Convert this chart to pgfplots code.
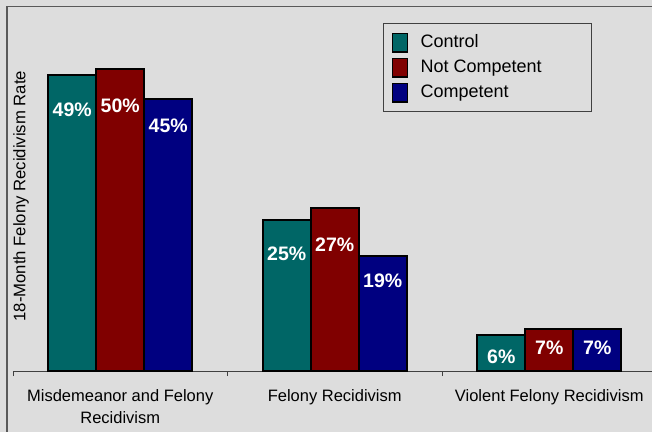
\documentclass[border=0pt]{standalone}
\usepackage{fontspec}
\setmainfont{Liberation Sans}
\usepackage{pgfplots}
\usepackage{pgfplotstable}
\pgfplotsset{compat=1.18}

\definecolor{bg}{RGB}{221,221,221}
\definecolor{ctrl}{RGB}{0,102,102}
\definecolor{notc}{RGB}{128,0,0}
\definecolor{comp}{RGB}{0,0,128}

% off = distance (bp) from bar top down to the label centre
\pgfplotstableread{
x y off
0 49 34.5
1 25 34
2 6 22
}\control
\pgfplotstableread{
x y off
0 50 36
1 27 37
2 7 19
}\notcomp
\pgfplotstableread{
x y off
0 45 26
1 19 24
2 7 19
}\comp

\begin{document}
\begin{tikzpicture}
\path[use as bounding box] (0,0) rectangle (652bp,432bp);
\clip (0,0) rectangle (652bp,432bp);
\fill[bg] (0,0) rectangle (652bp,432bp);
\draw[black!65, line width=1.5bp] (7bp,-5bp) -- (7bp,425.3bp) -- (660bp,425.3bp);
\begin{axis}[
  at={(13bp,61bp)}, anchor=south west,
  scale only axis, width=643.5bp, height=362bp,
  xmin=-0.5, xmax=2.5, ymin=0, ymax=60,
  ybar=0pt, bar width=48bp,
  axis lines*=left, y axis line style={draw=none}, ytick=\empty,
  x axis line style={black!75, line width=1bp},
  xtick={0,1,2}, major tick length=0pt,
  minor xtick={-0.5,0.5,1.5,2.5}, minor tick length=5bp, tick align=outside,
  minor tick style={black!75, line width=1bp},
  xticklabels={{Misdemeanor and Felony\\Recidivism},{Felony Recidivism},{Violent Felony Recidivism}},
  xticklabel style={align=center, anchor=north, inner sep=0pt, yshift=-18bp,
    font=\fontsize{16.5bp}{22bp}\selectfont},
  ylabel={18-Month Felony Recidivism Rate},
  ylabel style={at={(axis description cs:0.0124,0.483)}, anchor=center, inner sep=0pt,
    font=\fontsize{16.7bp}{20bp}\selectfont},
  every axis plot/.append style={draw=black, line width=2bp},
  point meta=explicit symbolic,
  nodes near coords={\pgfmathprintnumber[fixed,precision=0,assume math mode=true]{\pgfkeysvalueof{/data point/y}}\%},
  every node near coord/.append style={draw=none, text=white, anchor=center,
    yshift={-\pgfplotspointmeta*1bp},
    font=\bfseries\fontsize{19.5bp}{22bp}\selectfont},
  clip=false,
  legend style={at={(rel axis cs:0.575,0.961)}, anchor=north west,
    draw=black!75, line width=1.3bp, fill=bg,
    font=\fontsize{18bp}{21bp}\selectfont,
    inner xsep=6bp, inner ysep=8.5bp, row sep=4bp,
    nodes={text height=13bp, text depth=4bp, inner ysep=2bp}},
  legend cell align=left,
  legend image code/.code={
    \draw[#1, draw=black, line width=1.6bp] (3bp,-9.25bp) rectangle (18bp,9.25bp);
    \path[draw=none, fill=none] (0bp,0bp) -- (29bp,0bp);},
]
\addplot[fill=ctrl] table[x=x, y=y, meta=off] {\control};
\addplot[fill=notc] table[x=x, y=y, meta=off] {\notcomp};
\addplot[fill=comp] table[x=x, y=y, meta=off] {\comp};
\legend{Control, Not Competent\hspace*{42bp}, Competent}
\end{axis}
\end{tikzpicture}
\end{document}
